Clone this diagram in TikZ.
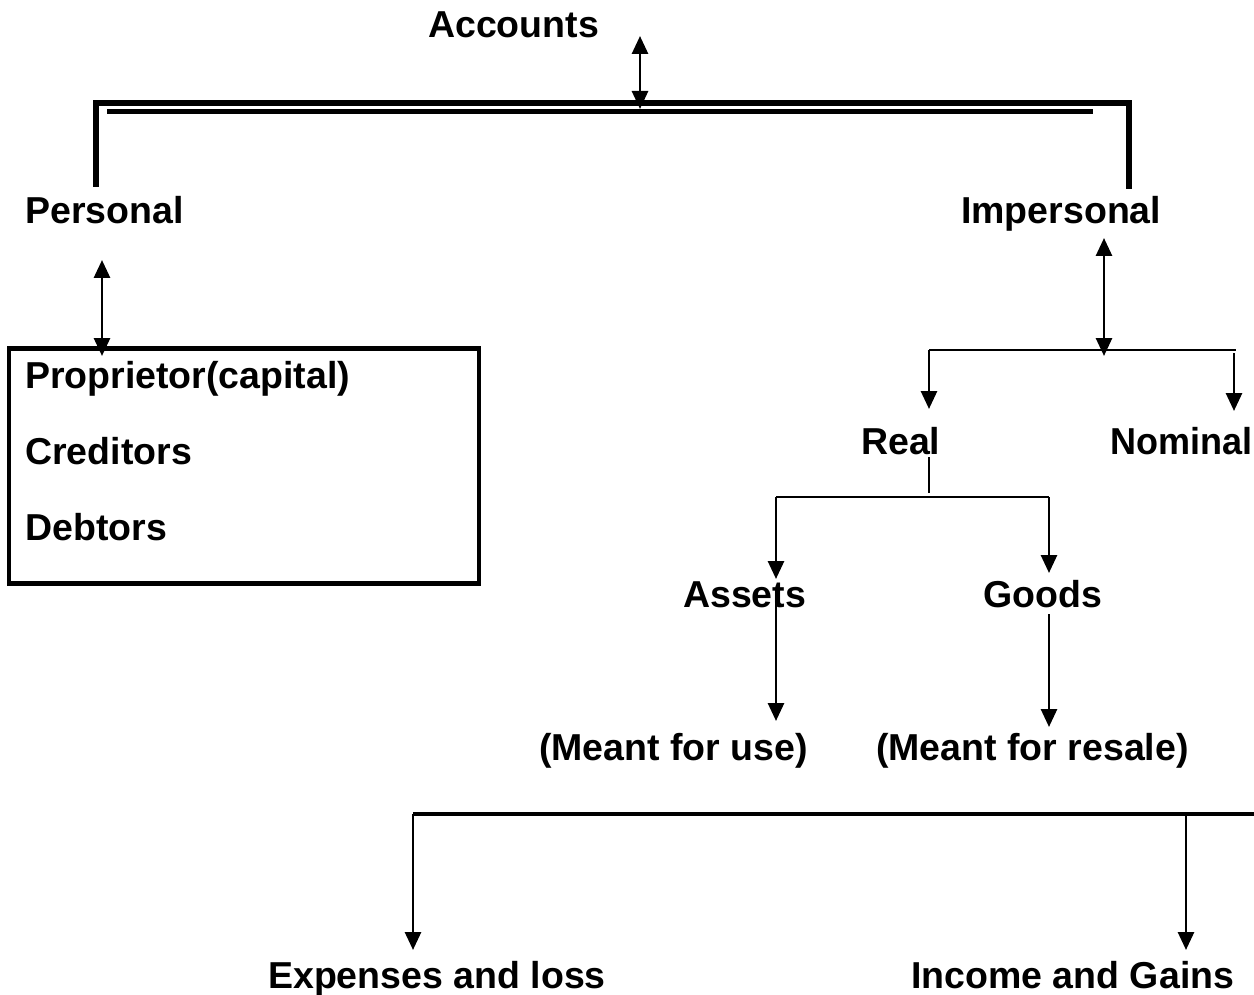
\documentclass[tikz,border=0pt]{standalone}
\usepackage{fontspec}
\usepackage{graphicx}
\setmainfont{Liberation Sans}
\usetikzlibrary{arrows.meta}
\begin{document}
\begin{tikzpicture}[x=1pt,y=-1pt,
  lbl/.style={inner sep=0pt,anchor=base west,font=\fontsize{37.5}{37.5}\selectfont\bfseries},
  thin/.style={line width=2.8pt},
  thick/.style={line width=5.5pt},
  tip/.style={-{Triangle[length=18pt,width=16pt]}},
  dtip/.style={{Triangle[length=18pt,width=16pt]}-{Triangle[length=18pt,width=16pt]}}]
\useasboundingbox (0,0) rectangle (1254,995);
% texts
\node[lbl] (acc) at (428,38) {Accounts};
\node[lbl] (pers) at (25,224) {Personal};
\node[lbl] (imp) at (961,224) {Impersonal};
\node[lbl] (prop) at (25,388) {Proprietor(capital)};
\node[lbl] (cred) at (25,464) {Creditors};
\node[lbl] (debt) at (25,540) {Debtors};
\node[lbl] (real) at (861,454) {Real};
\node[lbl,anchor=base east] (nom) at (1253,454) {\scalebox{0.96}[1]{Nominal}};
\node[lbl] (ass) at (683,607) {Assets};
\node[lbl] (goods) at (983,607) {Goods};
\node[lbl] (use) at (539,760) {(Meant for use)};
\node[lbl] (resale) at (876,760) {(Meant for resale)};
\node[lbl] (exp) at (268,988) {Expenses and loss};
\node[lbl] (inc) at (911,988) {Income and Gains};
% coordinates
\coordinate (a1) at (640,36); \coordinate (a2) at (640,109);
\coordinate (bl) at (96,187); \coordinate (br) at (1129,189);
\coordinate (p1) at (102,260); \coordinate (p2) at (102,356);
\coordinate (i1) at (1104,238); \coordinate (i2) at (1104,356);
\coordinate (hl) at (929,350); \coordinate (hr) at (1236,350);
\coordinate (rl) at (929,409); \coordinate (nr1) at (1234,353); \coordinate (nr2) at (1234,411);
\coordinate (r1) at (929,457); \coordinate (r2) at (929,493);
\coordinate (gl) at (776,497); \coordinate (gr) at (1049,497);
\coordinate (as1) at (776,579); \coordinate (gd1) at (1049,573);
\coordinate (as2) at (776,600); \coordinate (as3) at (776,721);
\coordinate (gd2) at (1049,614); \coordinate (gd3) at (1049,727);
\coordinate (bl1) at (413,814); \coordinate (br1) at (1254,814);
\coordinate (ex) at (413,950); \coordinate (ic1) at (1186,814); \coordinate (ic) at (1186,950);
% top bracket
\draw[thick,line join=miter] (bl) -- (96,103) -- (1129,103) -- (br);
\draw[thick] (107,111.5) -- (1093,111.5);
\draw[thin,dtip] (a1) -- (a2);
% personal
\draw[thin,dtip] (p1) -- (p2);
\draw[line width=4.5pt] (9,348.5) rectangle (479,583.5);
% impersonal
\draw[thin,dtip] (i1) -- (i2);
\draw[thin] (hl) -- (hr);
\draw[thin,tip] (hl) -- (rl);
\draw[thin,tip] (nr1) -- (nr2);
% real
\draw[thin] (r1) -- (r2);
\draw[thin] (gl) -- (gr);
\draw[thin,tip] (gl) -- (as1);
\draw[thin,tip] (gr) -- (gd1);
\draw[thin,tip] (as2) -- (as3);
\draw[thin,tip] (gd2) -- (gd3);
% bottom
\draw[line width=3.4pt] (bl1) -- (br1);
\draw[thin,tip] (bl1) -- (ex);
\draw[thin,tip] (ic1) -- (ic);
\end{tikzpicture}
\end{document}
